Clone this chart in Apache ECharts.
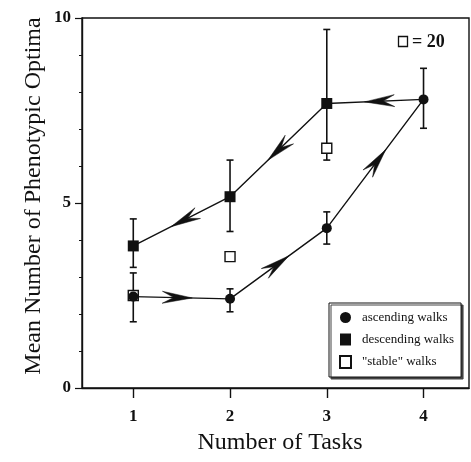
<!DOCTYPE html>
<html>
<head>
<meta charset="utf-8">
<script src="https://cdn.jsdelivr.net/npm/echarts@6/dist/echarts.min.js"></script>
<style>html,body{margin:0;padding:0;background:#fff}#c{width:471px;height:462px}</style>
</head>
<body>
<div id="c"></div>
<script>
// ---- data ----
const tasks = [1, 2, 3, 4];
const xTickLabels = [1, 2, 3, 4];
const yTickLabels = [0, 5, 10];
const ascMean = [2.47, 2.41, 4.32, 7.80];
const ascLow  = [1.79, 2.06, 3.89, 7.02];
const ascHigh = [3.11, 2.68, 4.76, 8.64];
const descTasks = [1, 2, 3];
const descMean = [3.84, 5.17, 7.69];
const descLow  = [3.26, 4.23, 6.16];
const descHigh = [4.57, 6.16, 9.69];
const stableTasks = [1, 2, 3];
const stableMean = [2.50, 3.55, 6.48];
const stableOffChartLabel = '= 20';
const seriesNames = ['ascending walks', 'descending walks', '"stable" walks'];

const FONT = '"Liberation Serif", "DejaVu Serif", serif';
const INK = '#111';

// paths
const ascPath = tasks.map((t, i) => [t, ascMean[i]]);
const descPath = descTasks.map((t, i) => [t, descMean[i]]).concat([[tasks[3], ascMean[3]]]);
// arrow segments: ascending goes forward, descending goes backward
const arrowSegs = [];
for (let i = 0; i < ascPath.length - 1; i++) arrowSegs.push([ascPath[i][0], ascPath[i][1], ascPath[i+1][0], ascPath[i+1][1]]);
for (let i = descPath.length - 1; i > 0; i--) arrowSegs.push([descPath[i][0], descPath[i][1], descPath[i-1][0], descPath[i-1][1]]);

const ascErr = tasks.map((t, i) => [t, ascLow[i], ascHigh[i]]);
const descErr = descTasks.map((t, i) => [t, descLow[i], descHigh[i]]);

function errRender(params, api) {
  const x = api.value(0);
  const top = api.coord([x, api.value(2)]);
  const bot = api.coord([x, api.value(1)]);
  const hw = 3.5;
  const st = { stroke: INK, lineWidth: 1.6 };
  return { type: 'group', children: [
    { type: 'line', shape: { x1: top[0], y1: top[1], x2: bot[0], y2: bot[1] }, style: st },
    { type: 'line', shape: { x1: top[0]-hw, y1: top[1], x2: top[0]+hw, y2: top[1] }, style: st },
    { type: 'line', shape: { x1: bot[0]-hw, y1: bot[1], x2: bot[0]+hw, y2: bot[1] }, style: st }
  ]};
}

function arrowRender(params, api) {
  const a = api.coord([api.value(0), api.value(1)]);
  const b = api.coord([api.value(2), api.value(3)]);
  const dx = b[0]-a[0], dy = b[1]-a[1];
  const len = Math.sqrt(dx*dx+dy*dy);
  const ux = dx/len, uy = dy/len, nx = -uy, ny = ux;
  const f = 0.61;
  const T = [a[0]+dx*f, a[1]+dy*f];
  const L = 30, W = 6;
  const pts = [
    T,
    [T[0]-L*ux+W*nx, T[1]-L*uy+W*ny],
    [T[0]-0.62*L*ux, T[1]-0.62*L*uy],
    [T[0]-L*ux-W*nx, T[1]-L*uy-W*ny]
  ];
  return { type: 'polygon', shape: { points: pts }, style: { fill: INK, stroke: INK, lineWidth: 0.5 } };
}

const chart = echarts.init(document.getElementById('c'), null, { renderer: 'canvas' });
chart.setOption({
  backgroundColor: '#fff',
  animation: false,
  grid: { left: 82, right: 2, top: 18, bottom: 74, show: true, borderColor: INK, borderWidth: 1.4, backgroundColor: 'transparent' },
  xAxis: {
    type: 'value', min: 0.47, max: 4.47,
    axisLine: { lineStyle: { color: INK, width: 1.4 } },
    axisTick: { customValues: xTickLabels, length: 10, lineStyle: { color: INK, width: 1.4 } },
    axisLabel: { customValues: xTickLabels, margin: 20, color: INK, fontFamily: FONT, fontSize: 17, fontWeight: 'bold' },
    splitLine: { show: false }
  },
  yAxis: {
    type: 'value', min: 0, max: 10, interval: 5,
    axisLine: { show: true, lineStyle: { color: INK, width: 1.4 } },
    axisTick: { show: true, length: 7, lineStyle: { color: INK, width: 1.2 } },
    minorTick: { show: true, splitNumber: 5, length: 3, lineStyle: { color: INK, width: 1 } },
    axisLabel: { margin: 11, color: INK, fontFamily: FONT, fontSize: 17, fontWeight: 'bold',
      formatter: v => yTickLabels.indexOf(v) >= 0 ? String(v) : '' },
    splitLine: { show: false }
  },
  legend: {
    orient: 'vertical', left: 329, top: 303,
    data: seriesNames,
    padding: [8, 7, 8, 10], itemGap: 9, itemWidth: 11, itemHeight: 12,
    borderColor: INK, borderWidth: 1, backgroundColor: '#fff',
    shadowColor: '#444', shadowOffsetX: 2, shadowOffsetY: 2, shadowBlur: 0,
    textStyle: { fontFamily: FONT, fontSize: 13, color: INK, padding: [0, 0, 0, 6] }
  },
  graphic: [
    { type: 'text', style: { text: 'Number of Tasks', font: '24px ' + FONT, fill: INK, x: 280, y: 443, align: 'center', verticalAlign: 'middle' } },
    { type: 'text', x: 34, y: 196, rotation: Math.PI / 2, style: { text: 'Mean Number of Phenotypic Optima', font: '24px ' + FONT, fill: INK, align: 'center', verticalAlign: 'middle' } },
    { type: 'rect', shape: { x: 398.5, y: 36.5, width: 9, height: 10 }, style: { fill: '#fff', stroke: INK, lineWidth: 1.3 } },
    { type: 'text', style: { text: stableOffChartLabel, font: 'bold 18px ' + FONT, fill: INK, x: 412, y: 42, verticalAlign: 'middle' } }
  ],
  series: [
    { type: 'line', data: ascPath, symbol: 'none', lineStyle: { color: INK, width: 1.4 }, silent: true, z: 2 },
    { type: 'line', data: descPath, symbol: 'none', lineStyle: { color: INK, width: 1.4 }, silent: true, z: 2 },
    { type: 'custom', data: ascErr, renderItem: errRender, z: 3 },
    { type: 'custom', data: descErr, renderItem: errRender, z: 3 },
    { type: 'custom', data: arrowSegs, renderItem: arrowRender, z: 4 },
    { name: seriesNames[2], type: 'scatter', data: stableTasks.map((t, i) => [t, stableMean[i]]), symbol: 'rect', symbolSize: 10,
      itemStyle: { color: '#fff', borderColor: INK, borderWidth: 1.4, opacity: 1 }, z: 5 },
    { name: seriesNames[0], type: 'scatter', data: ascPath, symbol: 'circle', symbolSize: 10,
      itemStyle: { color: INK, opacity: 1 }, z: 6 },
    { name: seriesNames[1], type: 'scatter', data: descTasks.map((t, i) => [t, descMean[i]]), symbol: 'rect', symbolSize: 11,
      itemStyle: { color: INK, opacity: 1 }, z: 6 }
  ]
});
</script>
</body>
</html>
